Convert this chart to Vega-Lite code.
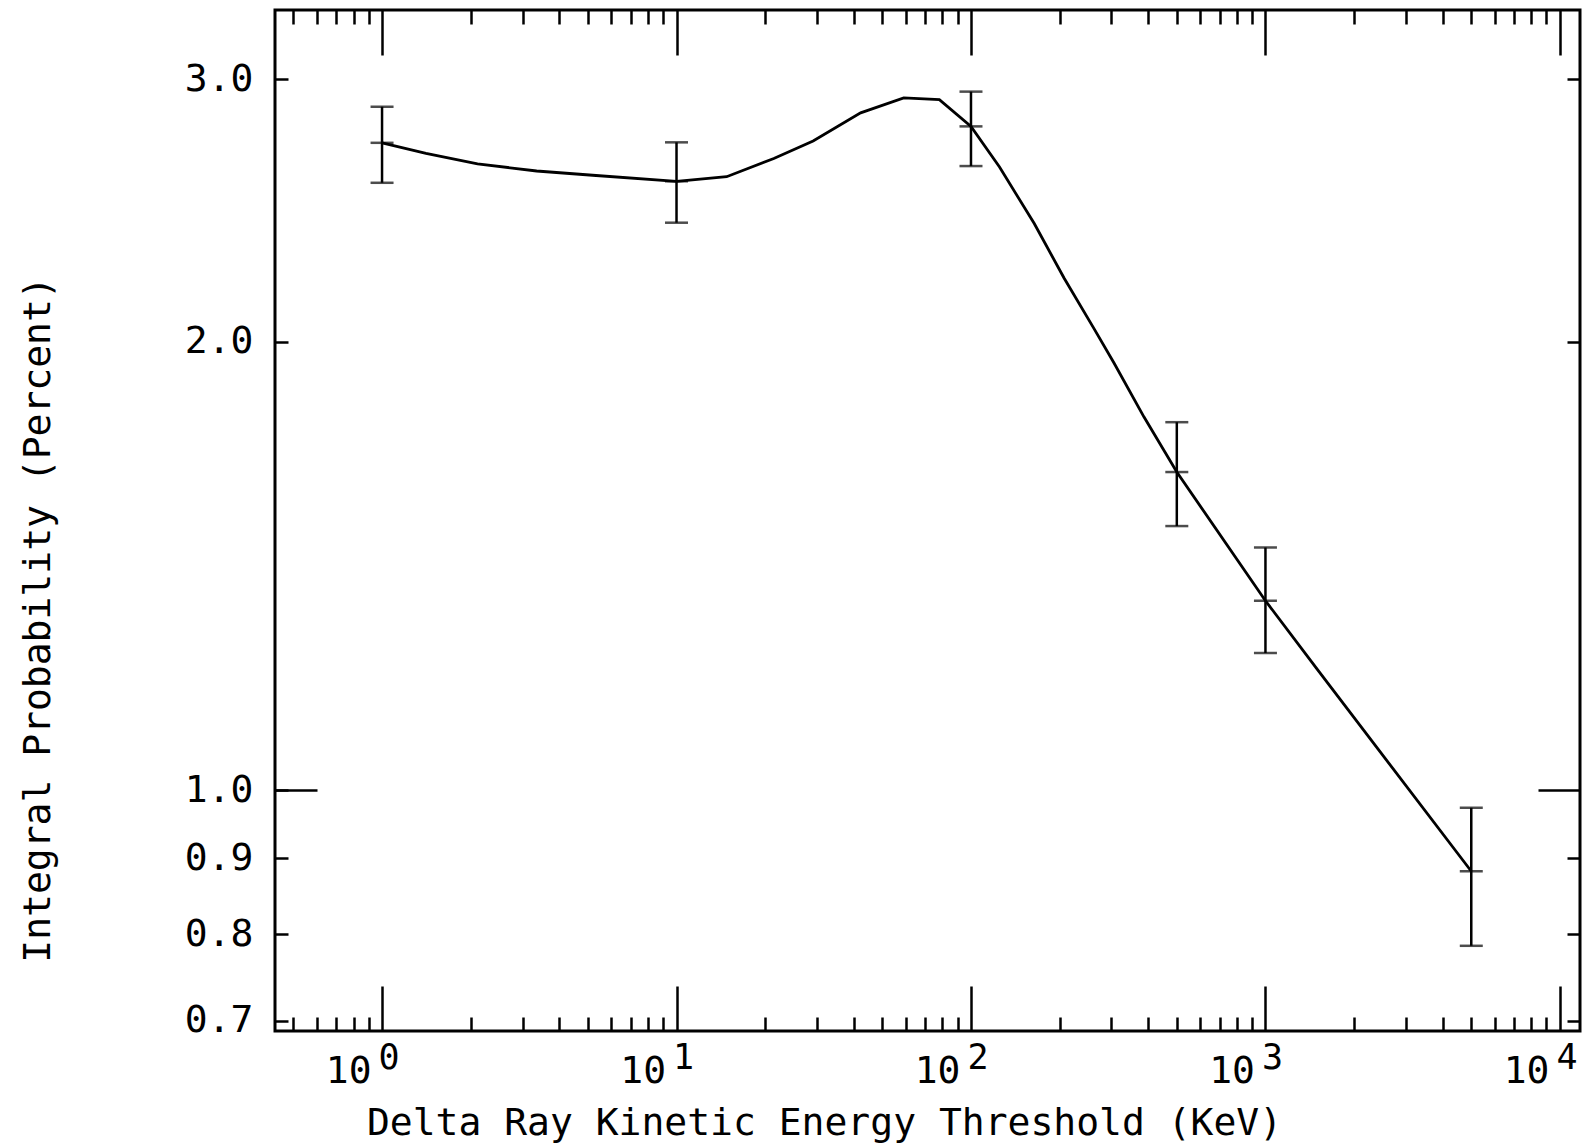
{
  "$schema": "https://vega.github.io/schema/vega-lite/v6.json",
  "autosize": "none",
  "padding": {"left": 275, "top": 10, "right": 5, "bottom": 115},
  "width": 1305,
  "height": 1021,
  "background": "white",
  "config": {
    "view": {"stroke": "black", "strokeWidth": 3},
    "axis": {"domain": false, "grid": false, "tickColor": "black", "tickWidth": 2.5, "labelColor": "black", "titleColor": "black", "labelFont": "DejaVu Sans Mono", "titleFont": "DejaVu Sans Mono", "labelFontSize": 38, "titleFontSize": 38, "titleFontWeight": "normal", "labelOverlap": false, "labelFlush": false, "labelBound": false}
  },
  "datasets": {
    "curve": [
      {"x": 1, "y": 2.72},
      {"x": 1.41, "y": 2.676},
      {"x": 2.11, "y": 2.633},
      {"x": 3.35, "y": 2.604},
      {"x": 5.33, "y": 2.586},
      {"x": 10, "y": 2.563},
      {"x": 14.8, "y": 2.581},
      {"x": 21.4, "y": 2.655},
      {"x": 29.1, "y": 2.728},
      {"x": 42.2, "y": 2.849},
      {"x": 59.1, "y": 2.916},
      {"x": 78.1, "y": 2.908},
      {"x": 100, "y": 2.79},
      {"x": 125, "y": 2.62},
      {"x": 164, "y": 2.401},
      {"x": 207, "y": 2.207},
      {"x": 262, "y": 2.04},
      {"x": 306, "y": 1.935},
      {"x": 387, "y": 1.78},
      {"x": 500, "y": 1.635},
      {"x": 1000, "y": 1.34},
      {"x": 1500, "y": 1.205},
      {"x": 5000, "y": 0.882}
    ],
    "pts": [
      {"x": 1, "y": 2.72, "lo": 2.557, "hi": 2.876},
      {"x": 10, "y": 2.563, "lo": 2.404, "hi": 2.722},
      {"x": 100, "y": 2.79, "lo": 2.624, "hi": 2.944},
      {"x": 500, "y": 1.635, "lo": 1.504, "hi": 1.766},
      {"x": 1000, "y": 1.34, "lo": 1.236, "hi": 1.455},
      {"x": 5000, "y": 0.882, "lo": 0.786, "hi": 0.973}
    ]
  },
  "resolve": {"axis": {"x": "independent", "y": "independent"}},
  "layer": [
    {
      "data": {"name": "curve"},
      "mark": {"type": "line", "color": "black", "strokeWidth": 2.8, "interpolate": "linear"},
      "encoding": {
        "x": {"field": "x", "type": "quantitative", "scale": {"type": "log", "domain": [0.433, 11700], "nice": false, "zero": false},
          "axis": {"orient": "bottom", "values": [1, 10, 100, 1000, 10000], "tickSize": -45, "labelPadding": 96, "labelBaseline": "alphabetic", "labelAlign": "right", "labelOffset": -11,
            "labelExpr": "'10'",
            "title": "Delta Ray Kinetic Energy Threshold (KeV)", "titleX": 549, "titleY": 103, "titleBaseline": "alphabetic", "titleAlign": "center", "titleAnchor": null}},
        "y": {"field": "y", "type": "quantitative", "scale": {"type": "log", "domain": [0.689, 3.34], "nice": false, "zero": false},
          "axis": {"orient": "left", "values": [0.7, 0.8, 0.9, 1, 2, 3], "format": ".1f", "tickSize": -13, "labelPadding": 35, "labelBaseline": "middle",
            "title": "Integral Probability (Percent)", "titleAngle": -90, "titleX": -237, "titleY": 609, "titleAlign": "center", "titleBaseline": "middle", "titleAnchor": null}}
      }
    },
    {
      "data": {"name": "pts"},
      "mark": {"type": "rule", "color": "black", "strokeWidth": 2.5},
      "encoding": {
        "x": {"field": "x", "type": "quantitative", "scale": {"type": "log", "domain": [0.433, 11700], "nice": false, "zero": false},
          "axis": {"orient": "bottom", "values": [0.5, 0.6, 0.7, 0.8, 0.9, 2, 3, 4, 5, 6, 7, 8, 9, 20, 30, 40, 50, 60, 70, 80, 90, 200, 300, 400, 500, 600, 700, 800, 900, 2000, 3000, 4000, 5000, 6000, 7000, 8000, 9000], "tickSize": -14, "labels": false, "title": null}},
        "y": {"field": "lo", "type": "quantitative", "scale": {"type": "log", "domain": [0.689, 3.34], "nice": false, "zero": false},
          "axis": {"orient": "left", "values": [1], "tickSize": -42, "labels": false, "title": null}},
        "y2": {"field": "hi"}
      }
    },
    {
      "data": {"name": "pts"},
      "mark": {"type": "tick", "orient": "horizontal", "color": "black", "size": 23, "thickness": 2.5},
      "encoding": {
        "x": {"field": "x", "type": "quantitative", "scale": {"type": "log", "domain": [0.433, 11700], "nice": false, "zero": false},
          "axis": {"orient": "top", "values": [1, 10, 100, 1000, 10000], "tickSize": -45, "labels": false, "title": null}},
        "y": {"field": "lo", "type": "quantitative", "scale": {"type": "log", "domain": [0.689, 3.34], "nice": false, "zero": false},
          "axis": {"orient": "right", "values": [0.7, 0.8, 0.9, 2, 3], "tickSize": -13, "labels": false, "title": null}}
      }
    },
    {
      "data": {"name": "pts"},
      "mark": {"type": "tick", "orient": "horizontal", "color": "black", "size": 23, "thickness": 2.5},
      "encoding": {
        "x": {"field": "x", "type": "quantitative", "scale": {"type": "log", "domain": [0.433, 11700], "nice": false, "zero": false},
          "axis": {"orient": "top", "values": [0.5, 0.6, 0.7, 0.8, 0.9, 2, 3, 4, 5, 6, 7, 8, 9, 20, 30, 40, 50, 60, 70, 80, 90, 200, 300, 400, 500, 600, 700, 800, 900, 2000, 3000, 4000, 5000, 6000, 7000, 8000, 9000], "tickSize": -14, "labels": false, "title": null}},
        "y": {"field": "hi", "type": "quantitative", "scale": {"type": "log", "domain": [0.689, 3.34], "nice": false, "zero": false},
          "axis": {"orient": "right", "values": [1], "tickSize": -42, "labels": false, "title": null}}
      }
    },
    {
      "data": {"name": "pts"},
      "mark": {"type": "tick", "orient": "horizontal", "color": "black", "size": 23, "thickness": 2.5},
      "encoding": {
        "x": {"field": "x", "type": "quantitative", "scale": {"type": "log", "domain": [0.433, 11700], "nice": false, "zero": false},
          "axis": {"orient": "bottom", "values": [1, 10, 100, 1000, 10000], "ticks": false, "labelPadding": 37, "labelBaseline": "alphabetic", "labelAlign": "left", "labelOffset": -4, "labelFontSize": 35,
            "labelExpr": "'' + round(log(datum.value)/LN10)", "title": null}},
        "y": {"field": "y", "type": "quantitative", "scale": {"type": "log", "domain": [0.689, 3.34], "nice": false, "zero": false}, "axis": null}
      }
    }
  ]
}
